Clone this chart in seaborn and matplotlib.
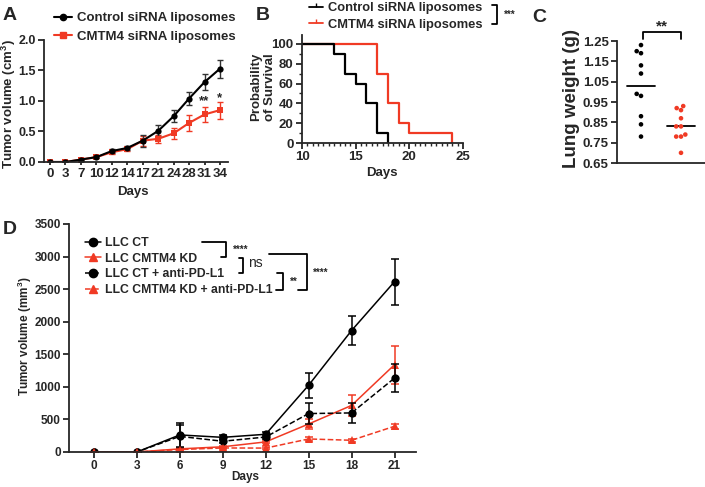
import numpy as np
import pandas as pd
import matplotlib
matplotlib.use("Agg")
import matplotlib.pyplot as plt
from matplotlib.lines import Line2D
from matplotlib.ticker import MultipleLocator
import seaborn as sns

RED = '#f03a24'

# panel A: tumor volume (cm3), mean and sem
days_a = [0, 3, 7, 10, 12, 14, 17, 21, 24, 28, 31, 34]
ctrl_a = [0.0, 0.0, 0.04, 0.08, 0.18, 0.23, 0.35, 0.51, 0.75, 1.04, 1.31, 1.53]
ctrl_a_err = [0.01, 0.01, 0.02, 0.02, 0.03, 0.03, 0.10, 0.09, 0.10, 0.11, 0.13, 0.15]
cmtm4_a = [0.0, 0.0, 0.04, 0.08, 0.16, 0.21, 0.35, 0.38, 0.47, 0.64, 0.78, 0.85]
cmtm4_a_err = [0.01, 0.01, 0.02, 0.02, 0.03, 0.03, 0.08, 0.07, 0.09, 0.13, 0.12, 0.14]

# panel B: survival (%)
ctrl_b_days = [10, 13, 14, 15, 16, 17, 18]
ctrl_b_surv = [100, 90, 70, 60, 40, 10, 0]
cmtm4_b_days = [10, 17, 18, 19, 20, 24]
cmtm4_b_surv = [100, 70, 40, 20, 10, 0]

# panel C: lung weight (g)
ctrl_c = [1.23, 1.20, 1.19, 1.13, 1.09, 0.99, 0.98, 0.88, 0.84, 0.78]
cmtm4_c = [0.93, 0.92, 0.91, 0.87, 0.83, 0.83, 0.79, 0.78, 0.78, 0.70]

# panel D: tumor volume (mm3)
days_d = [0, 3, 6, 9, 12, 15, 18, 21]
llc_ct = [0, 0, 262, 225, 272, 1025, 1865, 2615]
llc_ct_err = [0, 0, 185, 35, 35, 195, 220, 355]
llc_kd = [0, 0, 48, 80, 155, 430, 715, 1340]
llc_kd_err = [0, 0, 20, 15, 20, 70, 160, 290]
llc_ct_pd = [0, 0, 240, 165, 230, 590, 600, 1135]
llc_ct_pd_err = [0, 0, 180, 30, 30, 165, 155, 215]
llc_kd_pd = [0, 0, 38, 62, 60, 200, 180, 395]
llc_kd_pd_err = [0, 0, 15, 12, 15, 30, 20, 35]

sns.set_style('ticks')
plt.rcParams['font.family'] = ['Liberation Sans', 'DejaVu Sans']
plt.rcParams['font.weight'] = 'bold'
plt.rcParams['axes.labelweight'] = 'bold'
plt.rcParams['axes.linewidth'] = 1.3
plt.rcParams['mathtext.fontset'] = 'custom'
plt.rcParams['mathtext.bf'] = 'Liberation Sans:bold'
plt.rcParams['mathtext.rm'] = 'Liberation Sans:bold'
plt.rcParams['mathtext.default'] = 'bf'

W, H = 705, 487
fig = plt.figure(figsize=(W / 100, H / 100), dpi=100)


def fx(px):
    return px / W


def fy(py):
    return 1 - py / H


def ax_at(l, t, r, b):
    return fig.add_axes([fx(l), fy(b), (r - l) / W, (b - t) / H])


def bracket(pts, lw=1.3):
    xs = [fx(p[0]) for p in pts]
    ys = [fy(p[1]) for p in pts]
    fig.add_artist(Line2D(xs, ys, color='black', lw=lw, transform=fig.transFigure))


def ftext(px, py, s, **kw):
    fig.text(fx(px), fy(py), s, ha='center', va='center', **kw)


def style_ax(ax, size):
    sns.despine(ax=ax)
    ax.tick_params(labelsize=size, width=1.3, length=4, pad=2)


# ---------------- A ----------------
axA = ax_at(44, 40, 228, 162)
xa = np.arange(len(days_a))
axA.errorbar(xa, cmtm4_a, yerr=cmtm4_a_err, fmt='none', ecolor=RED, elinewidth=1, capsize=2.5)
axA.errorbar(xa, ctrl_a, yerr=ctrl_a_err, fmt='none', ecolor='#333333', elinewidth=1, capsize=2.5)
sns.lineplot(x=xa, y=cmtm4_a, color=RED, marker='s', markersize=5, markeredgewidth=0, lw=1.5, ax=axA)
sns.lineplot(x=xa, y=ctrl_a, color='black', marker='o', markersize=4.5, markeredgewidth=0, lw=1.5, ax=axA)
axA.set_xlim(-0.39, 11.52)
axA.set_ylim(0, 2.0)
axA.set_xticks(xa)
axA.set_xticklabels(days_a)
axA.set_yticks([0, 0.5, 1.0, 1.5, 2.0])
axA.yaxis.set_major_formatter(matplotlib.ticker.FormatStrFormatter('%.1f'))
style_ax(axA, 9)
axA.tick_params(axis='x', length=2, pad=2, labelsize=9.5)
axA.text(10, 1.0, '**', ha='center', va='center', fontsize=9.5)
axA.text(11, 1.05, '*', ha='center', va='center', fontsize=9.5)
handles_a = [Line2D([], [], color='black', marker='o', markersize=4.5, lw=1.5),
             Line2D([], [], color=RED, marker='s', markersize=5, lw=1.5)]
axA.legend(handles_a, ['Control siRNA liposomes', 'CMTM4 siRNA liposomes'],
           loc='upper left', bbox_to_anchor=(fx(54), fy(12)), bbox_transform=fig.transFigure,
           frameon=False, fontsize=9.5, handlelength=1.4, handletextpad=0.35,
           labelspacing=0.5, borderpad=0, borderaxespad=0)
ftext(9, 104, 'Tumor volume (cm$^3$)', rotation=90, fontsize=9.5)
ftext(133, 192, 'Days', fontsize=9.5)

# ---------------- B ----------------
axB = ax_at(302, 35, 463, 143)
sns.lineplot(x=cmtm4_b_days, y=cmtm4_b_surv, color=RED, drawstyle='steps-post', lw=1.6, ax=axB)
sns.lineplot(x=ctrl_b_days, y=ctrl_b_surv, color='black', drawstyle='steps-post', lw=1.6, ax=axB)
axB.set_xlim(10, 25)
axB.set_ylim(0, 109)
axB.set_xticks([10, 15, 20, 25])
axB.set_yticks([0, 20, 40, 60, 80, 100])
axB.xaxis.set_minor_locator(MultipleLocator(0.5))
axB.yaxis.set_minor_locator(MultipleLocator(10))
style_ax(axB, 9.5)
axB.tick_params(which='minor', length=2, width=1)
handles_b = [Line2D([], [], color='black', marker=2, markersize=3, lw=1.3),
             Line2D([], [], color=RED, marker=2, markersize=3, lw=1.3)]
axB.legend(handles_b, ['Control siRNA liposomes', 'CMTM4 siRNA liposomes'],
           loc='upper left', bbox_to_anchor=(fx(309), fy(2)), bbox_transform=fig.transFigure,
           frameon=False, fontsize=9.3, handlelength=1.1, handletextpad=0.35,
           labelspacing=0.35, borderpad=0, borderaxespad=0)
bracket([(492, 5), (497, 5), (497, 24), (492, 24)])
ftext(510, 15, '***', fontsize=7)
ftext(263, 87, 'Probability\nof Survival', rotation=90, fontsize=9.5, linespacing=1.15)
ftext(382, 173, 'Days', fontsize=9.5)

# ---------------- C ----------------
axC = ax_at(617, 41, 705, 163)
df_c = pd.DataFrame({'group': ['Control'] * len(ctrl_c) + ['CMTM4'] * len(cmtm4_c),
                     'weight': ctrl_c + cmtm4_c})
sns.swarmplot(data=df_c, x='group', y='weight', hue='group', palette=['black', RED],
              order=['Control', 'CMTM4'], size=3.3, legend=False, ax=axC)
for i, vals in [(0, ctrl_c), (1, cmtm4_c)]:
    axC.plot([i - 0.34, i + 0.34], [np.mean(vals)] * 2, color='black', lw=1.3)
axC.set_xlim(-0.6, 1.6)
axC.set_ylim(0.65, 1.25)
axC.set_yticks([0.65, 0.75, 0.85, 0.95, 1.05, 1.15, 1.25])
axC.set_xticks([])
axC.set_xlabel('')
axC.set_ylabel('')
style_ax(axC, 9.5)
bracket([(643, 39), (643, 32), (681, 32), (681, 39)])
ftext(662, 26, '**', fontsize=11)
ftext(572, 98, 'Lung weight (g)', rotation=90, fontsize=13.5)

# ---------------- D ----------------
axD = ax_at(69, 224, 416, 452)
series_d = [
    ('LLC CT', llc_ct, llc_ct_err, 'black', 'o', '-'),
    ('LLC CMTM4 KD', llc_kd, llc_kd_err, RED, '^', '-'),
    ('LLC CT + anti-PD-L1', llc_ct_pd, llc_ct_pd_err, 'black', 'o', '--'),
    ('LLC CMTM4 KD + anti-PD-L1', llc_kd_pd, llc_kd_pd_err, RED, '^', '--'),
]
handles_d = []
for name, vals, err, col, mk, ls in series_d:
    axD.errorbar(days_d, vals, yerr=err, fmt='none', ecolor=col, elinewidth=1.1, capsize=3, capthick=1.1)
    sns.lineplot(x=days_d, y=vals, color=col, marker=mk, markersize=6, markeredgewidth=0,
                 linestyle=ls, lw=1.1, ax=axD)
    handles_d.append(Line2D([], [], color=col, marker=mk, markersize=6, lw=1.1, linestyle=ls))
axD.set_xlim(-1.74, 22.5)
axD.set_ylim(0, 3500)
axD.set_xticks(days_d)
axD.set_yticks(range(0, 3501, 500))
style_ax(axD, 8.5)
axD.legend(handles_d, [s[0] for s in series_d],
           loc='upper left', bbox_to_anchor=(fx(85), fy(237)), bbox_transform=fig.transFigure,
           frameon=False, fontsize=8.8, handlelength=1.3, handletextpad=0.35,
           labelspacing=0.3, borderpad=0, borderaxespad=0)
bracket([(202, 242), (226, 242), (226, 257), (221, 257)])
ftext(241, 250, '****', fontsize=7)
bracket([(239, 258), (243, 258), (243, 273), (239, 273)])
ftext(255, 263, 'ns', fontsize=10, fontweight='normal')
bracket([(277, 273), (283, 273), (283, 290), (276, 290)])
ftext(294, 282, '**', fontsize=7)
bracket([(269, 254), (307, 254), (307, 290), (298, 290)])
ftext(321, 273, '****', fontsize=7)
ftext(25, 336, 'Tumor volume (mm$^3$)', rotation=90, fontsize=8.5)
ftext(245, 477, 'Days', fontsize=8.5)

# panel letters
for letter, px, py in [('A', 10, 16), ('B', 263, 16), ('C', 539, 17), ('D', 10, 230)]:
    ftext(px, py, letter, fontsize=14)

fig.savefig('out.png', dpi=100)
